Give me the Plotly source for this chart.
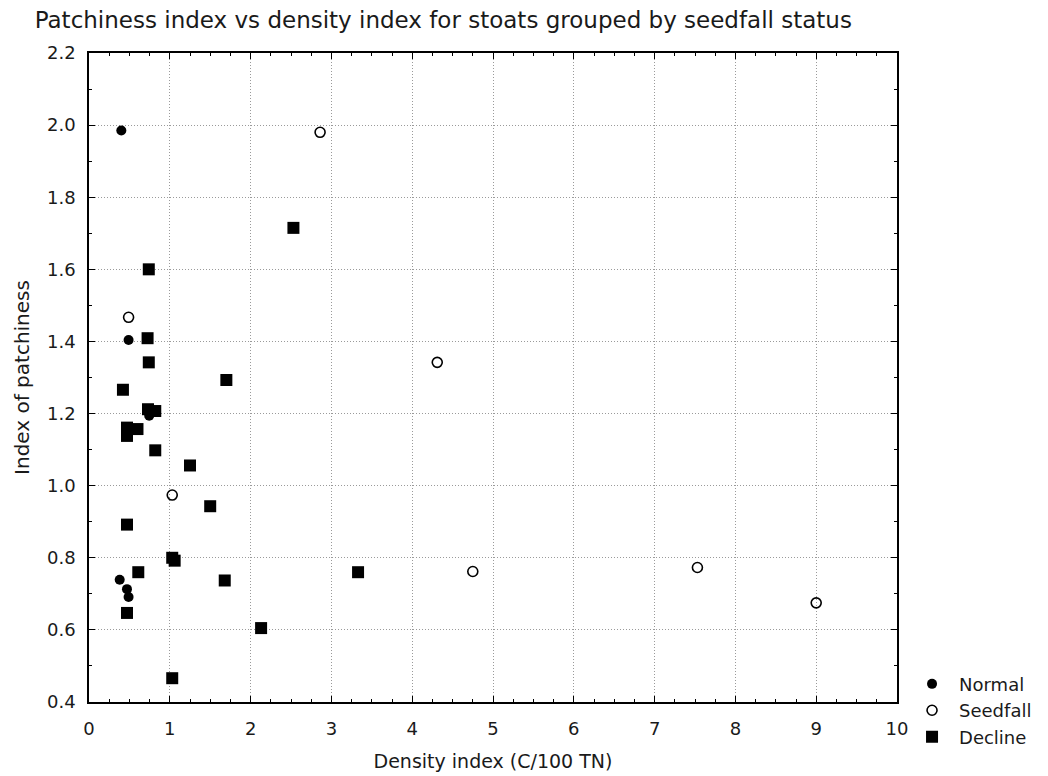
import plotly.graph_objects as go

# Normal (filled circles)
normal_x = [0.40, 0.49, 0.745, 0.38, 0.47, 0.49]
normal_y = [1.985, 1.404, 1.194, 0.739, 0.713, 0.691]

# Seedfall (open circles)
seed_x = [2.86, 0.49, 4.31, 1.03, 4.75, 7.53, 9.00]
seed_y = [1.980, 1.467, 1.342, 0.974, 0.762, 0.773, 0.675]

# Decline (filled squares)
decl_x = [2.53, 0.74, 0.725, 0.74, 1.70, 0.42, 0.73, 0.82, 0.47, 0.47, 0.60,
          0.82, 1.25, 1.50, 0.47, 1.03, 1.06, 0.61, 1.68, 3.33, 0.47, 2.13, 1.03]
decl_y = [1.715, 1.600, 1.409, 1.342, 1.293, 1.266, 1.212, 1.207, 1.161, 1.138, 1.157,
          1.098, 1.056, 0.943, 0.892, 0.800, 0.792, 0.760, 0.737, 0.760, 0.647, 0.605, 0.466]

x_ticks = list(range(0, 11))
y_ticks = [0.4, 0.6, 0.8, 1.0, 1.2, 1.4, 1.6, 1.8, 2.0, 2.2]

FONT = "DejaVu Sans"
TXT = "#1a1a1a"

fig = go.Figure()
fig.add_trace(go.Scatter(x=normal_x, y=normal_y, mode="markers", name="Normal",
                         marker=dict(symbol="circle", size=10, color="black",
                                     line=dict(width=0))))
fig.add_trace(go.Scatter(x=seed_x, y=seed_y, mode="markers", name="Seedfall",
                         marker=dict(symbol="circle-open", size=10, color="black",
                                     line=dict(width=1.6, color="black"))))
fig.add_trace(go.Scatter(x=decl_x, y=decl_y, mode="markers", name="Decline",
                         marker=dict(symbol="square", size=12, color="black",
                                     line=dict(width=0))))

axis_common = dict(
    showline=True, linecolor="black", linewidth=1.5, mirror="ticks",
    ticks="inside", ticklen=6, tickwidth=1.2, tickcolor="black",
    showgrid=True, gridcolor="#9a9a9a", griddash="1px,2px", gridwidth=1,
    zeroline=False, automargin=False,
    tickfont=dict(family=FONT, size=18, color=TXT),
)

fig.update_xaxes(
    range=[0, 10], tickvals=x_ticks, ticktext=[str(v) for v in x_ticks],
    minor=dict(dtick=0.25, ticks="inside", ticklen=3, tickcolor="black", showgrid=False),
    title=dict(text="Density index (C/100 TN)", font=dict(family=FONT, size=19, color=TXT),
               standoff=16),
    ticklabelstandoff=10,
    **axis_common,
)
fig.update_yaxes(
    range=[0.4, 2.2], tickvals=y_ticks, ticktext=[f"{v:.1f}" for v in y_ticks],
    minor=dict(dtick=0.1, ticks="inside", ticklen=3, tickcolor="black", showgrid=False),
    title=dict(text="Index of patchiness", font=dict(family=FONT, size=20, color=TXT),
               standoff=12),
    ticklabelstandoff=8,
    **axis_common,
)

fig.update_layout(
    width=1048, height=776,
    margin=dict(l=89, r=150, t=53, b=74),
    paper_bgcolor="white", plot_bgcolor="white",
    title=dict(text="Patchiness index vs density index for stoats grouped by seedfall status",
               font=dict(family=FONT, size=23, color=TXT),
               x=0.423, xanchor="center", xref="container",
               y=0.974, yanchor="middle", yref="container"),
    legend=dict(x=1.0087, xanchor="left", y=0.056, yanchor="top",
                font=dict(family=FONT, size=18, color=TXT),
                bgcolor="rgba(0,0,0,0)", tracegroupgap=0, itemwidth=44),
    showlegend=True,
)

fig.write_html("out.html")
